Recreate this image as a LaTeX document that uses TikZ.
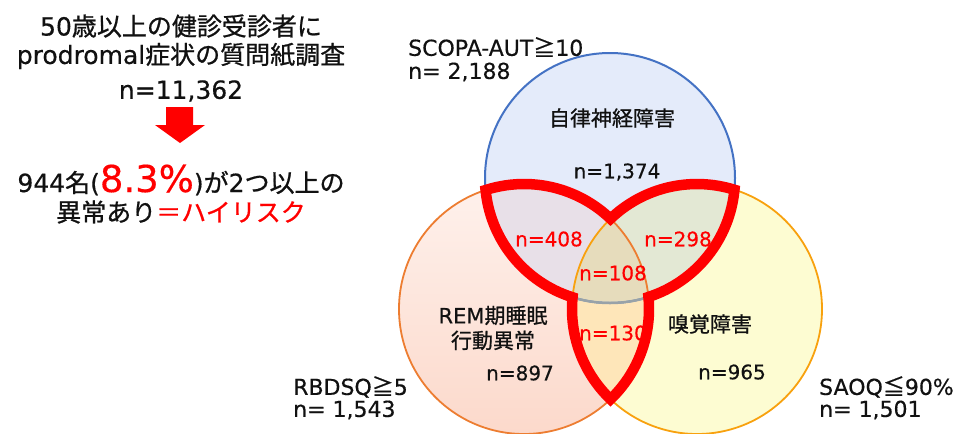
\documentclass[tikz,border=0pt]{standalone}
\usepackage{fontspec}
\setmainfont{DejaVu Sans}[FakeBold=0.4]
\newfontfamily\jp{Noto Sans CJK JP}[FakeBold=0.8]
\definecolor{Tfill}{HTML}{E4EBFA}
\definecolor{Ltop}{HTML}{FEF1EC}
\definecolor{Lbot}{HTML}{FCD9CB}
\definecolor{Rfill}{HTML}{FDFCD2}
\definecolor{TLfill}{HTML}{E8E0E8}
\definecolor{TRfill}{HTML}{E3E8D4}
\definecolor{LRfill}{HTML}{FEE6B9}
\definecolor{TLRfill}{HTML}{E6DCBC}
\definecolor{Tline}{HTML}{4472C4}
\definecolor{Lline}{HTML}{ED7D31}
\definecolor{Rline}{HTML}{F8A10E}
\definecolor{Gline}{HTML}{98A2A8}
\definecolor{myred}{HTML}{FF0000}
\definecolor{ink}{HTML}{111111}
\tikzset{
  big/.style={font=\fontsize{25}{30}\selectfont, inner sep=0pt, text=ink},
  lbl/.style={font=\fontsize{21}{25}\selectfont, inner sep=0pt, text=ink},
  clbl/.style={font=\fontsize{22}{25}\selectfont, inner sep=0pt, text=ink, anchor=west},
  nlbl/.style={font=\fontsize{20}{24}\selectfont, inner sep=0pt, text=ink},
  rlbl/.style={font=\fontsize{20}{24}\selectfont, inner sep=0pt, text=myred},
}
\begin{document}
\begin{tikzpicture}[x=1pt,y=-1pt]
\useasboundingbox (0,0) rectangle (962,434);
\fill[white] (0,0) rectangle (962,434);
\def\rr{125}
\coordinate (T) at (610,178);
\coordinate (L) at (524,309);
\coordinate (R) at (697,309);
% fills
\fill[Tfill] (T) circle[radius=\rr];
\shade[top color=Ltop, bottom color=Lbot] (L) circle[radius=\rr];
\fill[Rfill] (R) circle[radius=\rr];
\begin{scope}\clip (T) circle[radius=\rr]; \fill[TLfill] (L) circle[radius=\rr];\end{scope}
\begin{scope}\clip (T) circle[radius=\rr]; \fill[TRfill] (R) circle[radius=\rr];\end{scope}
\begin{scope}\clip (L) circle[radius=\rr]; \fill[LRfill] (R) circle[radius=\rr];\end{scope}
\begin{scope}\clip (T) circle[radius=\rr]; \clip (L) circle[radius=\rr]; \fill[TLRfill] (R) circle[radius=\rr];\end{scope}
% strokes
\draw[Tline, line width=2pt] (T) circle[radius=\rr];
\begin{scope}\clip (L) circle[radius=\rr]; \clip (R) circle[radius=\rr];
  \draw[Gline, line width=2.5pt] (T) circle[radius=\rr];\end{scope}
\draw[Lline, line width=1.8pt] (L) circle[radius=\rr];
\draw[Rline, line width=1.8pt] (R) circle[radius=\rr];
% red outline of the 2+ region
\coordinate (S) at (552.0,187.2);
\draw[myred, line width=10.5pt, line join=miter]
  (S) arc[start angle=-77.055, end angle=-46.21, radius=\rr]
  arc[start angle=226.21, end angle=287.43, radius=\rr]
  arc[start angle=5.39, end angle=72.10, radius=\rr]
  arc[start angle=-5.53, end angle=46.21, radius=\rr]
  arc[start angle=133.79, end angle=185.39, radius=\rr]
  arc[start angle=107.43, end angle=174.47, radius=\rr]
  arc[start angle=-107.90, end angle=-70, radius=\rr];
% left text
\node[big] (t1) at (181,26) {50{\jp 歳以上の健診受診者に}};
\node[big] (t2) at (181,56) {prodromal{\jp 症状の質問紙調査}};
\node[big] (t3) at (181,91) {n=11,362};
\fill[myred] (166,107) -- (193,107) -- (193,125) -- (205,125) -- (180,143) -- (155,125) -- (166,125) -- cycle;
\node[big, anchor=base] (t4) at (181,192) {944{\jp 名}({\fontsize{37}{40}\selectfont\color{myred}8.3\%}){\jp が}2{\jp つ以上の}};
\node[big] (t5) at (181,212) {\jp 異常あり{\color{myred}＝ハイリスク}};
% right labels
\node[clbl] (s1) at (408,47) {SCOPA-AUT{\jp ≧}10};
\node[clbl] (s2) at (408,72) {n= 2,188};
\node[lbl] (s3) at (612,118) {\jp 自律神経障害};
\node[nlbl] (s4) at (617,172) {n=1,374};
\node[rlbl] (r1) at (549,239) {n=408};
\node[rlbl] (r2) at (678,239) {n=298};
\node[rlbl] (r3) at (613,273) {n=108};
\node[rlbl] (r4) at (613,333) {n=130};
\node[lbl, align=center] (l1) at (493,328) {REM{\jp 期睡眠}\\{\jp 行動異常}};
\node[nlbl] (l2) at (520,373) {n=897};
\node[lbl] (q1) at (710,324) {\jp 嗅覚障害};
\node[nlbl] (q2) at (732,372) {n=965};
\node[clbl] (q3) at (819,387) {SAOQ{\jp ≦}90\%};
\node[clbl] (q4) at (819,410) {n= 1,501};
\node[clbl] (b1) at (293,387) {RBDSQ{\jp ≧}5};
\node[clbl] (b2) at (293,410) {n= 1,543};
\end{tikzpicture}
\end{document}
